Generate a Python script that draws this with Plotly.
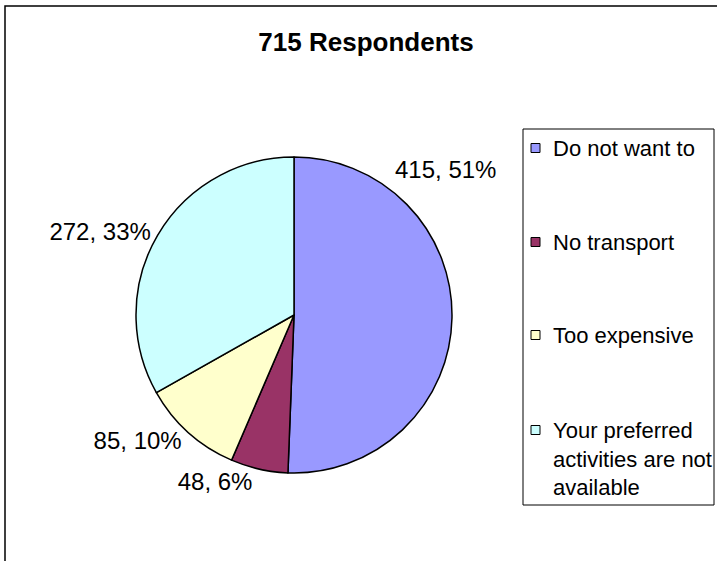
import plotly.graph_objects as go

W, H = 717, 561

title_text = "715 Respondents"
labels = ["Do not want to", "No transport", "Too expensive",
          "Your preferred activities are not available"]
legend_text = ["Do not want to", "No transport", "Too expensive",
               "Your preferred<br>activities are not<br>available"]
values = [415, 48, 85, 272]
colors = ["#9999FF", "#993366", "#FFFFCC", "#CCFFFF"]

total = sum(values)
font_family = "Arial, Liberation Sans, sans-serif"


def px(x):
    return x / W


def py(y):
    return 1 - y / H


# pie box: centre (294, 315), radius 158
cx, cy, r = 294, 315, 158

fig = go.Figure()
fig.add_trace(go.Pie(
    labels=labels,
    values=values,
    sort=False,
    direction="clockwise",
    rotation=0,
    marker=dict(colors=colors, line=dict(color="black", width=1.5)),
    texttemplate="%{value}, %{percent:.0%}",
    # first label was moved up in the original, drawn as annotation below
    textposition=["none", "outside", "outside", "outside"],
    textfont=dict(family=font_family, size=24, color="black"),
    domain=dict(x=[px(cx - r), px(cx + r)], y=[py(cy + r), py(cy - r)]),
    showlegend=False,
    hoverinfo="label+value+percent",
))

annotations = []
annotations.append(dict(
    x=px(446), y=py(169), xref="paper", yref="paper",
    text="%d, %d%%" % (values[0], round(100 * values[0] / total)),
    showarrow=False, xanchor="center", yanchor="middle",
    font=dict(family=font_family, size=24, color="black"),
))

shapes = []
# outer chart frame
shapes.append(dict(type="rect", xref="paper", yref="paper",
                   x0=px(5), x1=1.05, y0=-0.05, y1=py(6),
                   line=dict(color="black", width=1.5)))
# legend frame
shapes.append(dict(type="rect", xref="paper", yref="paper",
                   x0=px(523), x1=px(714), y0=py(505), y1=py(129),
                   line=dict(color="black", width=1)))

# legend entries
entry_y = [148, 242, 335, 430]
for i in range(len(labels)):
    y = entry_y[i]
    shapes.append(dict(type="rect", xref="paper", yref="paper",
                       x0=px(531), x1=px(540), y0=py(y + 4.5), y1=py(y - 4.5),
                       fillcolor=colors[i], line=dict(color="black", width=1)))
    annotations.append(dict(
        x=px(551), y=py(y - 14), xref="paper", yref="paper",
        text=legend_text[i], showarrow=False, xanchor="left", yanchor="top",
        align="left",
        font=dict(family=font_family, size=22, color="black"),
    ))

fig.update_layout(
    width=W, height=H,
    margin=dict(l=0, r=0, t=0, b=0),
    paper_bgcolor="white",
    plot_bgcolor="white",
    title=dict(text="<b>" + title_text + "</b>", x=px(366), y=py(42),
               xanchor="center", yanchor="middle",
               font=dict(family=font_family, size=26, color="black")),
    shapes=shapes,
    annotations=annotations,
)

# drop the default page margin so the chart sits at the window's corner
fig.write_html("out.html",
               config={"displayModeBar": False},
               post_script="document.body.style.margin='0';"
                           "document.body.style.overflow='hidden';")
